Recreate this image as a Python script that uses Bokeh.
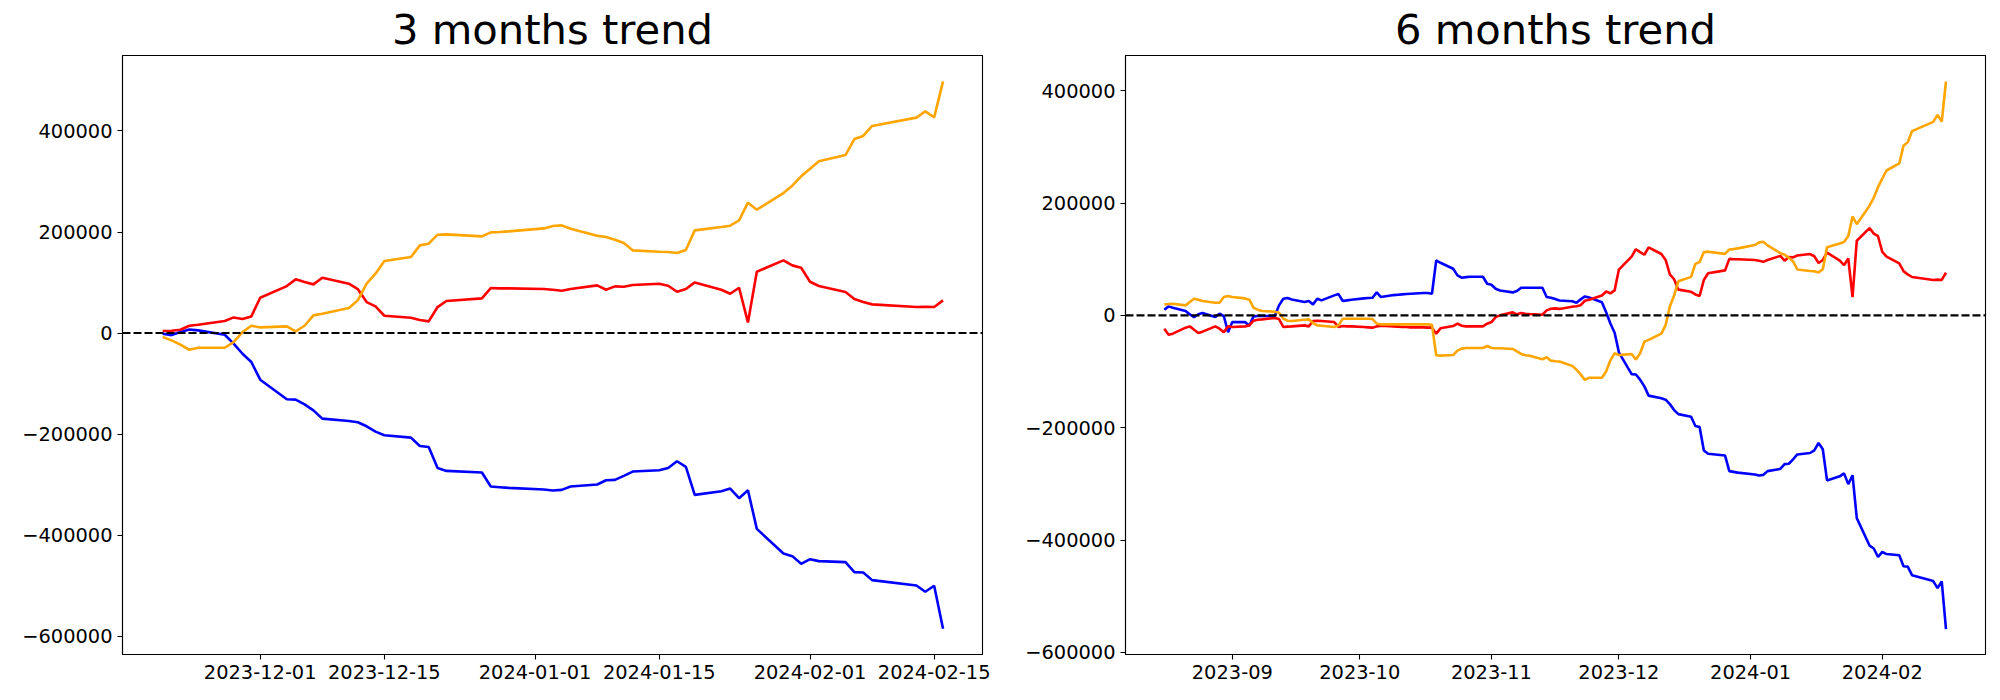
import pandas as pd
from bokeh.plotting import figure
from bokeh.layouts import row
from bokeh.models import Range1d, FixedTicker, Span
from bokeh.embed import file_html
from bokeh.resources import INLINE

# ---------------- data: 3 months window ----------------
dates3 = ["2023-11-20","2023-11-21","2023-11-22","2023-11-23","2023-11-24","2023-11-27","2023-11-28","2023-11-29","2023-11-30",
          "2023-12-01","2023-12-04","2023-12-05","2023-12-06","2023-12-07","2023-12-08","2023-12-11","2023-12-12","2023-12-13","2023-12-14","2023-12-15",
          "2023-12-18","2023-12-19","2023-12-20","2023-12-21","2023-12-22","2023-12-26","2023-12-27","2023-12-28","2023-12-29",
          "2024-01-02","2024-01-03","2024-01-04","2024-01-05","2024-01-08","2024-01-09","2024-01-10","2024-01-11","2024-01-12",
          "2024-01-15","2024-01-16","2024-01-17","2024-01-18","2024-01-19","2024-01-22","2024-01-23","2024-01-24","2024-01-25","2024-01-26",
          "2024-01-29","2024-01-30","2024-01-31","2024-02-01","2024-02-02","2024-02-05","2024-02-06","2024-02-07","2024-02-08",
          "2024-02-13","2024-02-14","2024-02-15","2024-02-16"]
blue3 = [-1300,-4000,2000,7200,5300,-3300,-21000,-40900,-57300,
         -92300,-131100,-131800,-141000,-152900,-169400,-174000,-176600,-184500,-195100,-202300,-206900,-223400,-225400,-266900,-272800,-276100,-303800,-305100,-306400,
         -309700,-311700,-310400,-303800,-299800,-291300,-290600,-282700,-274100,-271500,-266900,-253700,-264900,-320300,-313000,-307800,-326900,-311000,-387500,-436300,-441500,-456700,
         -447500,-451400,-453400,-473200,-473800,-489000,-499500,-512000,-500200,-585200]
red3 = [4000,4600,6600,14500,16500,23800,31000,27700,33000,
        70000,93000,106300,101000,96400,109600,97700,87100,61400,52800,34300,30400,25700,23100,51500,63400,68600,89100,88400,88400,
        87100,85800,83800,87100,94400,85800,92400,91700,95000,97700,93700,81800,87100,100300,85800,77900,89800,21100,121400,143900,134000,129400,
        101600,93100,81200,67300,61400,56800,51500,52100,51500,64700]
orange3 = [-7900,-14500,-23000,-33000,-29000,-29000,-17800,2000,14500,
           11200,13200,3300,14500,35000,38300,49500,64700,97700,117500,142600,150500,173600,176900,194700,195400,191400,199300,200000,201300,
           207200,211900,213200,206600,192700,190100,184800,178200,163700,161000,160400,158400,164300,203300,209900,212500,223100,258100,244200,277200,291700,310200,
           325400,339900,352400,384100,390100,409900,426400,438900,427000,498300]

# ---------------- data: 6 months window ----------------
dates6_early = ["2023-08-16","2023-08-17","2023-08-18","2023-08-21","2023-08-22","2023-08-23","2023-08-24","2023-08-25","2023-08-28","2023-08-29","2023-08-30","2023-08-31",
                "2023-09-01","2023-09-04","2023-09-05","2023-09-06","2023-09-07","2023-09-08","2023-09-11","2023-09-12","2023-09-13","2023-09-14","2023-09-15",
                "2023-09-18","2023-09-19","2023-09-20","2023-09-21","2023-09-22","2023-09-25","2023-09-26","2023-09-27","2023-09-28","2023-09-29",
                "2023-10-02","2023-10-03","2023-10-04","2023-10-05","2023-10-06","2023-10-09","2023-10-10","2023-10-11","2023-10-12","2023-10-13",
                "2023-10-16","2023-10-17","2023-10-18","2023-10-19","2023-10-20","2023-10-23","2023-10-24","2023-10-25","2023-10-26","2023-10-27","2023-10-30","2023-10-31",
                "2023-11-01","2023-11-02","2023-11-03","2023-11-06","2023-11-07","2023-11-08","2023-11-09","2023-11-10","2023-11-13","2023-11-14","2023-11-15","2023-11-16","2023-11-17"]
dates6 = dates6_early + dates3
blue6 = [10000,16000,13600,7700,1800,-3000,1800,4100,-3000,3000,-1200,-30000,
         -12000,-12000,-18400,-1800,-1200,-1200,-1200,17800,29600,30800,28400,23700,25500,19600,29600,26700,35600,37900,25500,26700,27900,
         30200,30800,31400,40900,32600,36100,36700,37300,37900,38500,39700,39700,38500,97800,93600,83000,71100,67000,68100,68700,68700,56300,
         54500,47400,44400,40900,43300,49200,49200,49200,49200,32600,31400,29000,26500,
         25200,22500,28500,33700,31800,23200,5500,-14400,-30800,
         -65800,-104600,-105300,-114500,-126400,-142900,-147500,-150100,-158000,-168600,-175800,-180400,-196900,-198900,-240400,-246300,-249600,-277300,-278600,-279900,
         -283200,-285200,-283900,-277300,-273300,-264800,-264100,-256200,-247600,-245000,-240400,-227200,-238400,-293800,-286500,-281300,-300400,-284500,-361000,-409800,-415000,-430200,
         -421000,-424900,-426900,-446700,-447300,-462500,-473000,-485500,-473700,-558700]
red6 = [-23700,-34400,-32600,-21900,-19600,-25500,-31400,-29000,-19600,-23700,-30200,-19600,
        -20700,-19600,-17800,-9500,-7700,-7100,-4700,-6500,-20700,-20100,-19600,-17800,-19600,-10100,-9500,-10100,-11900,-20700,-19000,-19600,-19600,
        -20700,-21300,-21900,-19600,-18400,-19600,-20100,-20700,-20700,-21300,-21300,-21900,-21900,-32600,-23100,-19000,-14800,-18400,-19600,-19600,-19600,-14800,
        -11900,-3000,0,5300,1800,4100,3000,2400,1200,8900,11900,12400,11500,
        15500,16100,18100,26000,28000,35300,42500,39200,44500,
        81500,104500,117800,112500,107900,121100,109200,98600,72900,64300,45800,41900,37200,34600,63000,74900,80100,100600,99900,99900,
        98600,97300,95300,98600,105900,97300,103900,103200,106500,109200,105200,93300,98600,111800,97300,89400,101300,32600,132900,155400,145500,140900,
        113100,104600,92700,78800,72900,68300,63000,63600,63000,76200]
orange6 = [19600,20100,20700,17800,23700,29600,27900,25500,22500,22500,32600,34400,
           32600,30200,27900,13600,10100,7700,6500,4700,-5900,-9500,-10100,-7700,-7100,-13600,-17800,-18400,-20700,-17800,-5900,-5900,-5900,
           -5900,-5900,-6500,-14800,-16000,-16000,-16000,-16000,-16000,-16000,-16000,-16000,-16600,-71100,-71700,-70500,-62800,-59200,-58000,-58000,-58000,-54500,
           -58000,-58600,-58600,-59800,-64000,-68700,-71100,-71700,-78200,-74600,-80600,-81700,-82000,
           -89900,-96500,-105000,-115000,-111000,-111000,-99800,-80000,-67500,
           -70800,-68800,-78700,-67500,-47000,-43700,-32500,-17300,15700,35500,60600,68500,91600,94900,112700,113400,109400,117300,118000,119300,
           125200,129900,131200,124600,110700,108100,102800,96200,81700,79000,78400,76400,82300,121300,127900,130500,141100,176100,162200,195200,209700,228200,
           243400,257900,270400,302100,308100,327900,344400,356900,345000,416300]

# ---------------- ticks ----------------
xticks3 = ["2023-12-01","2023-12-15","2024-01-01","2024-01-15","2024-02-01","2024-02-15"]
xlabels3 = ["2023-12-01","2023-12-15","2024-01-01","2024-01-15","2024-02-01","2024-02-15"]
xticks6 = ["2023-09-01","2023-10-01","2023-11-01","2023-12-01","2024-01-01","2024-02-01"]
xlabels6 = ["2023-09","2023-10","2023-11","2023-12","2024-01","2024-02"]
yticks3 = [-600000,-400000,-200000,0,200000,400000]
ylabels3 = ["\u2212600000","\u2212400000","\u2212200000","0","200000","400000"]
yticks6 = [-600000,-400000,-200000,0,200000,400000]
ylabels6 = ["\u2212600000","\u2212400000","\u2212200000","0","200000","400000"]

FONT = "DejaVu Sans"


def ms(s):
    return pd.Timestamp(s).value / 1e6


def make(title, dates, blue, red, orange, xr, yr, xticks, xlabels, yticks, ylabels, width, bl, br):
    p = figure(width=width, height=696, x_axis_type="datetime",
               output_backend="svg", toolbar_location=None,
               x_range=Range1d(ms(xr[0]), ms(xr[1])), y_range=Range1d(yr[0], yr[1]),
               min_border_left=bl, min_border_right=br, min_border_top=55, min_border_bottom=42)
    p.background_fill_color = "white"
    p.border_fill_color = "white"
    p.outline_line_color = "black"
    p.outline_line_width = 1.1
    p.xgrid.visible = False
    p.ygrid.visible = False

    x = pd.to_datetime(dates)
    p.line(x, blue, line_color="blue", line_width=2.6)
    p.line(x, red, line_color="red", line_width=2.6)
    p.line(x, orange, line_color="orange", line_width=2.6)
    p.add_layout(Span(location=0, dimension="width", line_color="black",
                      line_dash="8 3", line_width=2.1))

    xt = [ms(t) for t in xticks]
    p.xaxis.ticker = FixedTicker(ticks=xt)
    p.xaxis.major_label_overrides = {t: l for t, l in zip(xt, xlabels)}
    p.yaxis.ticker = FixedTicker(ticks=yticks)
    p.yaxis.major_label_overrides = {t: l for t, l in zip(yticks, ylabels)}

    for ax in (p.xaxis[0], p.yaxis[0]):
        ax.axis_line_color = "black"
        ax.axis_line_width = 1.1
        ax.major_tick_line_color = "black"
        ax.major_tick_line_width = 1.1
        ax.major_tick_out = 5
        ax.major_tick_in = 0
        ax.minor_tick_out = 0
        ax.minor_tick_in = 0
        ax.major_label_standoff = 5
        ax.major_label_text_font = FONT
        ax.major_label_text_font_size = "19.4px"
        ax.major_label_text_color = "black"

    p.title.text = title
    p.title.align = "center"
    p.title.text_font = FONT
    p.title.text_font_size = "41.7px"
    p.title.text_font_style = "normal"
    p.title.text_color = "black"
    p.title.standoff = 4
    return p


p1 = make("3 months trend", dates3, blue3, red3, orange3,
          ("2023-11-15 11:17", "2024-02-20 10:48"), (-636200, 549400),
          xticks3, xlabels3, yticks3, ylabels3, 1010, 122, 28)
p2 = make("6 months trend", dates6, blue6, red6, orange6,
          ("2023-08-06 20:38", "2024-02-25 07:12"), (-603700, 462600),
          xticks6, xlabels6, yticks6, ylabels6, 986, 115, 11)

layout = row(p1, p2)
open("out.html", "w").write(file_html(layout, INLINE))
